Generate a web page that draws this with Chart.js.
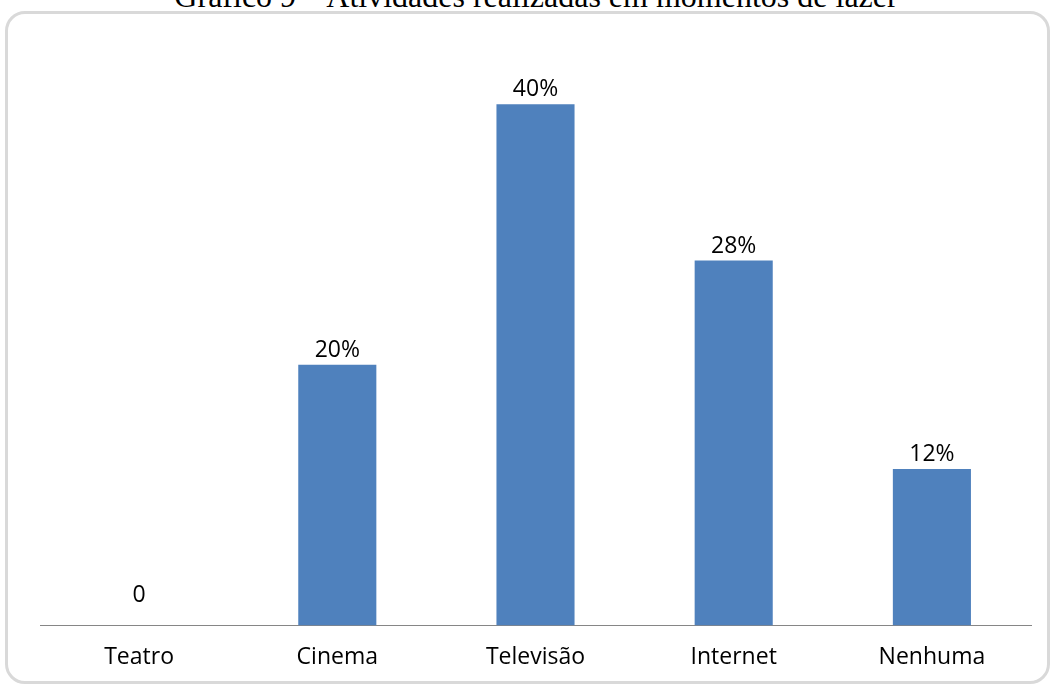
<!doctype html>
<html lang="pt">
<head>
    <meta charset="utf-8">
    <title>Gráfico 9</title>
    <script src="https://cdn.jsdelivr.net/npm/chart.js@4.4.1/dist/chart.umd.min.js"></script>
    <style>
      html, body { margin: 0; padding: 0; width: 1051px; height: 684px; overflow: hidden; background: #fff; }
      #titulo {
        position: absolute; left: 0; top: -20px; width: 1072px;
        text-align: center; font-family: "Liberation Serif", serif; font-size: 32px; line-height: 32px; color: #000;
        white-space: nowrap;
      }
      #moldura {
        position: absolute; left: 5px; top: 11px; width: 1045px; height: 673px;
        box-sizing: border-box; border: 3px solid #d9d9d9; border-radius: 20px;
      }
      #chartContainer { position: absolute; left: 0; top: 0; width: 1051px; height: 684px; }
    </style>
    <script type="text/javascript">
      const categorias = ['Teatro', 'Cinema', 'Televisão', 'Internet', 'Nenhuma'];
      const valores = [0, 20, 40, 28, 12];
      const rotulos = ['0', '20%', '40%', '28%', '12%'];

      const fonte = { family: '"Open Sans", sans-serif', size: 23 };

      // escreve o valor em cima de cada barra
      const rotulosPlugin = {
        id: 'rotulos',
        afterDatasetsDraw(chart) {
          const ctx = chart.ctx;
          const meta = chart.getDatasetMeta(0);
          ctx.save();
          ctx.font = fonte.size + 'px ' + fonte.family;
          ctx.fillStyle = '#000';
          ctx.textAlign = 'center';
          ctx.textBaseline = 'alphabetic';
          meta.data.forEach((bar, i) => {
            // barra zerada: o rótulo fica mais afastado do eixo
            const folga = valores[i] === 0 ? 23 : 8;
            ctx.fillText(rotulos[i], bar.x, bar.y - folga);
          });
          ctx.restore();
        }
      };

      const init = () => {
        const ctx = document.getElementById('myChart');
        new Chart(ctx, {
          type: 'bar',
          data: {
            labels: categorias,
            datasets: [{
              data: valores,
              backgroundColor: '#4f81bd',
              borderWidth: 0,
              barPercentage: 0.394,
              categoryPercentage: 1
            }]
          },
          options: {
            maintainAspectRatio: false,
            animation: false,
            layout: { padding: { left: 40, right: 20, top: 39, bottom: -5 } },
            plugins: {
              legend: { display: false },
              tooltip: { enabled: false }
            },
            scales: {
              x: {
                grid: { display: false, drawTicks: false },
                border: { display: true, color: '#868686', width: 1 },
                ticks: { color: '#000', font: fonte, padding: 18 }
              },
              y: {
                display: false,
                min: 0,
                max: 45
              }
            }
          },
          plugins: [rotulosPlugin]
        });
      }
      window.onload = init;
    </script>
</head>
<body>
    <div id="titulo">Gráfico 9 – Atividades realizadas em momentos de lazer</div>
    <div id="moldura"></div>
    <div id="chartContainer">
        <canvas id="myChart"></canvas>
    </div>
</body>
</html>
